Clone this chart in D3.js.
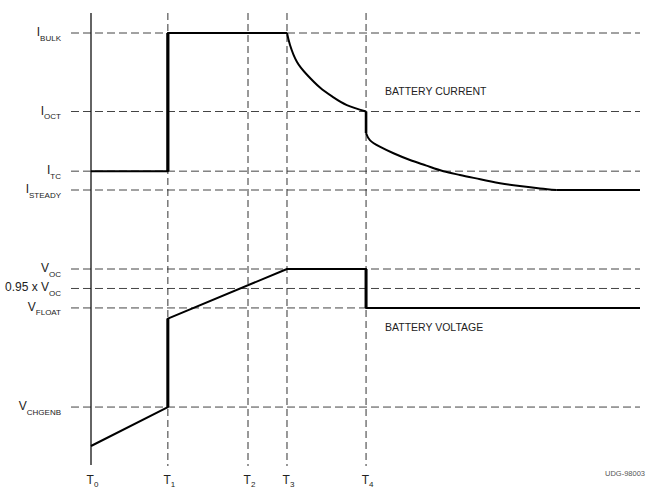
<!DOCTYPE html>
<html>
<head>
<meta charset="utf-8">
<script src="https://cdn.jsdelivr.net/npm/d3@7"></script>
<style>
  body { margin: 0; background: #fff; }
  text { font-family: Arial, "Liberation Sans", sans-serif; fill: #222; }
</style>
</head>
<body>
<div id="chart"></div>
<script>
var width = 655, height = 487;

// time marks (arbitrary time units, 0..100)
var tNames = ["0", "1", "2", "3", "4"];
var tValues = [0, 14, 28.6, 35.7, 50.1];
var tEnd = 100;

// current levels (relative units)
var iNames = ["BULK", "OCT", "TC", "STEADY"];
var iValues = [100, 50, 12, 0];

// voltage levels (relative units)
var vMain = ["V", "0.95 x V", "V", "V"];
var vNames = ["OC", "OC", "FLOAT", "CHGENB"];
var vValues = [100, 89, 78, 22];

// battery current waveform
var stepT = [0, 14, 14, 35.7];
var stepI = [12, 12, 100, 100];
var decay1T = [35.7, 36.25, 37.5, 39.3, 41.7, 44.1, 46.6, 50.1];
var decay1I = [100, 92.4, 81.7, 73.6, 65.3, 59.2, 54.1, 50];
var jumpT = [50.1, 50.1];
var jumpI = [50, 36.3];
var decay2T = [50.1, 50.8, 52.6, 55.1, 58.1, 61.1, 64.2, 67.2, 70.9, 74.5, 78.1, 81.8, 84.8];
var decay2I = [36.3, 31.8, 27.6, 23.4, 19.1, 15.5, 11.9, 9.6, 6.8, 4.3, 2.5, 1.0, 0];
var tailT = [84.8, 100];
var tailI = [0, 0];

// battery voltage waveform
var voltT = [0, 14, 14, 35.7, 50.1, 50.1, 100];
var voltV = [0, 22, 72, 100, 100, 78, 78];

var x = d3.scaleLinear().domain([0, tEnd]).range([91, 640]);
var yI = d3.scaleLinear().domain([0, 100]).range([190, 33]);
var yV = d3.scaleLinear().domain([0, 100]).range([446, 269]);

var svg = d3.select("#chart").append("svg")
    .attr("width", width)
    .attr("height", height);

function zip(a, b) { return a.map(function(d, i) { return [d, b[i]]; }); }

// horizontal dashed reference lines
var hLines = iValues.map(function(d) { return yI(d); })
    .concat(vValues.map(function(d) { return yV(d); }));

svg.selectAll(".hline")
  .data(hLines)
  .enter().append("line")
    .attr("x1", 71)
    .attr("x2", x(tEnd))
    .attr("y1", function(d) { return d; })
    .attr("y2", function(d) { return d; })
    .style("stroke", "#444")
    .style("stroke-width", 1)
    .style("stroke-dasharray", "8,4");

// vertical dashed time lines
svg.selectAll(".vline")
  .data(tValues.slice(1))
  .enter().append("line")
    .attr("x1", function(d) { return x(d); })
    .attr("x2", function(d) { return x(d); })
    .attr("y1", 13)
    .attr("y2", 466)
    .style("stroke", "#333")
    .style("stroke-width", 1)
    .style("stroke-dasharray", "7,4");

// time axis
svg.append("line")
    .attr("x1", x(0)).attr("x2", x(0))
    .attr("y1", 13).attr("y2", 465)
    .style("stroke", "#111")
    .style("stroke-width", 1.3);

// waveforms
var lineI = d3.line()
    .x(function(d) { return x(d[0]); })
    .y(function(d) { return yI(d[1]); });
var curveI = d3.line()
    .x(function(d) { return x(d[0]); })
    .y(function(d) { return yI(d[1]); })
    .curve(d3.curveNatural);
var lineV = d3.line()
    .x(function(d) { return x(d[0]); })
    .y(function(d) { return yV(d[1]); });

function wave(pathD, w) {
  svg.append("path")
      .attr("d", pathD)
      .style("fill", "none")
      .style("stroke", "#000")
      .style("stroke-width", w)
      .style("stroke-linejoin", "round");
}

wave(lineI(zip(stepT, stepI)), 2);
wave(curveI(zip(decay1T, decay1I)), 2);
wave(lineI(zip(jumpT, jumpI)), 2.6);
wave(curveI(zip(decay2T, decay2I)), 2);
wave(lineI(zip(tailT, tailI)), 2);
wave(lineV(zip(voltT, voltV)), 2);

// thicker vertical jumps
var vPts = zip(voltT, voltV);
vPts.forEach(function(p, i) {
  if (i > 0 && p[0] === vPts[i - 1][0]) wave(lineV([vPts[i - 1], p]), 3);
});
var sPts = zip(stepT, stepI);
sPts.forEach(function(p, i) {
  if (i > 0 && p[0] === sPts[i - 1][0]) wave(lineI([sPts[i - 1], p]), 3.2);
});

// level labels with subscripts
function levelLabel(main, sub, yPos) {
  var t = svg.append("text")
      .attr("x", 61)
      .attr("y", yPos + 3)
      .attr("text-anchor", "end")
      .style("font-size", "12px");
  t.append("tspan").text(main);
  t.append("tspan").attr("dy", 4.5).style("font-size", "8px").text(sub);
}

iNames.forEach(function(d, i) { levelLabel("I", d, yI(iValues[i])); });
vNames.forEach(function(d, i) { levelLabel(vMain[i], d, yV(vValues[i])); });

// time labels
tNames.forEach(function(d, i) {
  var t = svg.append("text")
      .attr("x", x(tValues[i]) + 1.5)
      .attr("y", 484)
      .attr("text-anchor", "middle")
      .style("font-size", "12px");
  t.append("tspan").text("T");
  t.append("tspan").attr("dy", 2.5).style("font-size", "8px").text(d);
});

svg.append("text")
    .attr("x", 385)
    .attr("y", 95)
    .style("font-size", "10.5px")
    .text("BATTERY CURRENT");

svg.append("text")
    .attr("x", 385)
    .attr("y", 331)
    .style("font-size", "10.5px")
    .text("BATTERY VOLTAGE");

svg.append("text")
    .attr("x", 645)
    .attr("y", 476)
    .attr("text-anchor", "end")
    .style("font-size", "7.5px")
    .style("fill", "#555")
    .text("UDG-98003");
</script>
</body>
</html>
